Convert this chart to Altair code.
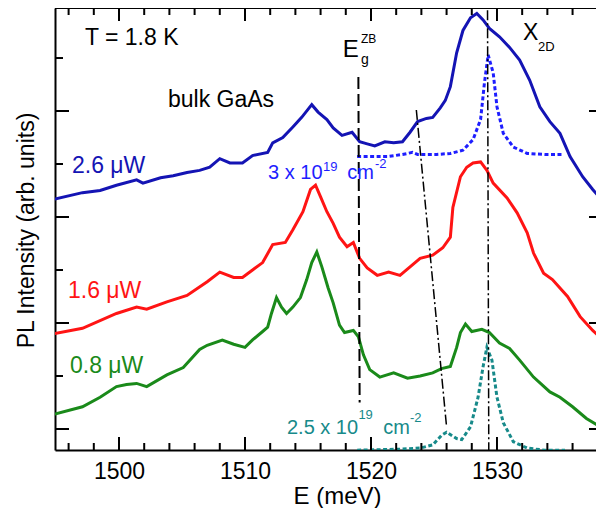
import altair as alt
import pandas as pd

# ---------------- data (E in meV, PL intensity in arb. units) ----------------
blue_26uW = [(1494.9, 2.17), (1497.1, 2.23), (1498.5, 2.25), (1499.8, 2.30), (1501.4, 2.35),
             (1501.9, 2.32), (1503.3, 2.37), (1504.3, 2.39), (1505.4, 2.42), (1506.4, 2.44),
             (1507.2, 2.47), (1508.0, 2.55), (1508.8, 2.51), (1509.8, 2.51), (1510.6, 2.58),
             (1511.8, 2.61), (1512.2, 2.70), (1513.0, 2.75), (1513.8, 2.85), (1514.5, 2.94),
             (1515.3, 3.06), (1515.8, 2.99), (1516.5, 2.92), (1517.0, 2.84), (1517.7, 2.77),
             (1518.5, 2.80), (1519.1, 2.71), (1519.7, 2.69), (1520.3, 2.67), (1521.1, 2.71),
             (1521.8, 2.70), (1522.5, 2.71), (1523.1, 2.80), (1523.7, 2.90), (1524.4, 2.93),
             (1524.9, 2.94), (1525.5, 3.03), (1525.9, 3.10), (1526.3, 3.23), (1526.8, 3.55),
             (1527.3, 3.76), (1527.9, 3.88), (1528.4, 3.92), (1528.9, 3.86), (1529.4, 3.78),
             (1530.2, 3.70), (1531.0, 3.60), (1531.8, 3.48), (1532.6, 3.29), (1533.4, 3.04),
             (1534.2, 2.90), (1535.0, 2.79), (1535.8, 2.57), (1536.8, 2.38), (1537.6, 2.26),
             (1538.5, 2.14)]

red_16uW = [(1494.9, 0.90), (1497.1, 0.95), (1499.8, 1.09), (1501.4, 1.15), (1502.2, 1.13),
            (1503.8, 1.20), (1505.4, 1.26), (1507.0, 1.39), (1508.0, 1.48), (1509.1, 1.43),
            (1509.8, 1.43), (1510.6, 1.50), (1511.4, 1.57), (1512.2, 1.74), (1513.2, 1.76),
            (1513.8, 1.88), (1514.6, 2.05), (1515.2, 2.26), (1515.6, 2.30), (1516.0, 2.19),
            (1516.5, 2.05), (1517.0, 1.94), (1517.5, 1.81), (1518.1, 1.72), (1518.6, 1.76),
            (1519.1, 1.61), (1519.7, 1.52), (1520.5, 1.45), (1521.4, 1.48), (1522.3, 1.45),
            (1523.1, 1.53), (1523.9, 1.61), (1524.9, 1.64), (1525.7, 1.71), (1526.3, 1.81),
            (1526.5, 2.09), (1527.1, 2.38), (1527.6, 2.47), (1528.1, 2.51), (1528.7, 2.52),
            (1529.2, 2.44), (1529.7, 2.32), (1530.8, 2.18), (1531.6, 2.04), (1532.4, 1.85),
            (1532.9, 1.66), (1533.7, 1.47), (1534.4, 1.41), (1535.6, 1.25), (1536.6, 1.06),
            (1537.6, 0.93), (1538.5, 0.83)]

green_08uW = [(1494.9, 0.14), (1497.1, 0.21), (1498.5, 0.30), (1499.8, 0.40), (1500.6, 0.42),
              (1501.4, 0.43), (1502.2, 0.40), (1503.8, 0.51), (1505.1, 0.58), (1506.4, 0.75),
              (1507.0, 0.79), (1508.2, 0.84), (1509.1, 0.80), (1510.0, 0.77), (1510.6, 0.84),
              (1511.4, 0.92), (1511.8, 0.96), (1512.1, 1.09), (1512.5, 1.24), (1512.9, 1.15),
              (1513.3, 1.09), (1513.8, 1.15), (1514.4, 1.24), (1514.9, 1.41), (1515.3, 1.57),
              (1515.7, 1.67), (1516.1, 1.53), (1516.6, 1.33), (1517.0, 1.19), (1517.5, 0.98),
              (1517.9, 0.91), (1518.6, 0.93), (1519.0, 0.87), (1519.4, 0.70), (1519.9, 0.56),
              (1520.7, 0.49), (1521.8, 0.53), (1522.9, 0.48), (1523.9, 0.50), (1524.9, 0.53),
              (1525.6, 0.57), (1526.3, 0.59), (1526.8, 0.77), (1527.1, 0.91), (1527.5, 0.99),
              (1528.0, 0.92), (1528.8, 0.94), (1529.4, 0.91), (1530.2, 0.81), (1531.0, 0.76),
              (1531.8, 0.65), (1532.9, 0.49), (1534.2, 0.35), (1535.0, 0.30), (1536.0, 0.21),
              (1537.1, 0.10), (1538.2, 0.02), (1538.5, 0.00)]

calc_3e19 = [(1518.9, 2.57), (1521.3, 2.57), (1522.5, 2.59), (1523.3, 2.61), (1523.7, 2.59),
             (1525.2, 2.59), (1526.3, 2.60), (1527.3, 2.63), (1528.1, 2.73), (1528.7, 2.92),
             (1529.0, 3.26), (1529.3, 3.53), (1529.7, 3.36), (1530.0, 3.04), (1530.5, 2.79),
             (1531.3, 2.66), (1532.4, 2.60), (1533.8, 2.59), (1535.2, 2.59)]

calc_25e19 = [(1518.9, -0.20), (1522.3, -0.19), (1523.9, -0.18), (1524.9, -0.15), (1525.6, -0.06),
              (1526.0, -0.03), (1526.8, -0.09), (1527.2, -0.10), (1527.9, 0.02), (1528.5, 0.30),
              (1528.9, 0.59), (1529.2, 0.77), (1529.6, 0.65), (1530.0, 0.30), (1530.5, 0.06),
              (1531.3, -0.12), (1532.4, -0.18), (1533.8, -0.20), (1535.4, -0.20)]

eg_zb_line = [(1519.0, 3.32), (1519.1, 0.25)]
shift_line = [(1523.6, 3.01), (1526.0, 0.02)]
x2d_line = [(1529.25, 3.95), (1529.35, -0.20)]

x_major = [1500, 1510, 1520, 1530]
x_minor = [1496, 1498, 1502, 1504, 1506, 1508, 1512, 1514, 1516, 1518,
           1522, 1524, 1526, 1528, 1532, 1534, 1536]
y_major = [0, 1, 2, 3]
y_minor = [0.5, 1.5, 2.5, 3.5]

labels = [
    ("T = 1.8 K", 1497.30, 3.62, 23, "black"),
    ("bulk GaAs", 1503.89, 3.04, 23, "black"),
    ("2.6 μW", 1496.27, 2.42, 23, "#1414b4"),
    ("1.6 μW", 1495.95, 1.24, 23, "#ff1414"),
    ("0.8 μW", 1496.11, 0.53, 23, "#1a8a1a"),
    ("3 x 10", 1511.83, 2.36, 20, "#1e1eff"),
    ("19", 1516.19, 2.43, 13, "#1e1eff"),
    ("cm", 1518.12, 2.36, 20, "#1e1eff"),
    ("-2", 1520.32, 2.46, 13, "#1e1eff"),
    ("2.5 x 10", 1513.33, -0.05, 20, "#178a8a"),
    ("19", 1519.00, 0.09, 13, "#178a8a"),
    ("cm", 1520.98, -0.05, 20, "#178a8a"),
    ("-2", 1523.10, 0.07, 13, "#178a8a"),
    ("E", 1517.75, 3.51, 24, "black"),
    ("ZB", 1519.20, 3.64, 12, "black"),
    ("g", 1519.20, 3.44, 14, "black"),
    ("X", 1532.06, 3.67, 23, "black"),
    ("2D", 1533.25, 3.57, 13, "black"),
]

# ---------------- chart ----------------
FONT = "Liberation Sans"
W, H = 541, 442
xs = alt.Scale(domain=[1494.92, 1537.86], nice=False, zero=False)
ys = alt.Scale(domain=[-0.198, 3.972], nice=False, zero=False)

xax = alt.Axis(
    values=x_major, format="d", ticks=False, tickSize=0, grid=False,
    labelFontSize=23, labelFont=FONT, labelColor="black", labelPadding=10, labelFlush=False,
    domainColor="black", domainWidth=2,
    title="E (meV)", titleFont=FONT, titleFontSize=24, titleFontWeight="normal",
    titleColor="black", titleX=282, titleY=53, titleBaseline="alphabetic", titleAlign="center")
yax = alt.Axis(
    labels=False, ticks=False, tickSize=0, grid=False,
    domainColor="black", domainWidth=2,
    title="PL Intensity (arb. units)", titleFont=FONT, titleFontSize=23,
    titleFontWeight="normal", titleColor="black", titleX=-22, titleY=222,
    titleAngle=270, titleBaseline="alphabetic", titleAlign="center")

X = alt.X("E:Q", scale=xs, axis=xax, title="E (meV)")
Y = alt.Y("I:Q", scale=ys, axis=yax, title="PL Intensity (arb. units)")


def df(pairs):
    return pd.DataFrame(pairs, columns=["E", "I"])


def line(pairs, color, width=3.0, dash=None):
    kw = dict(color=color, strokeWidth=width, clip=True)
    if dash:
        kw["strokeDash"] = dash
    return alt.Chart(df(pairs)).mark_line(**kw).encode(x=X, y=Y)


layers = [line(green_08uW, "#1a8a1a"),
          line(red_16uW, "#ff1414"),
          line(blue_26uW, "#1414b4"),
          line(calc_3e19, "#1e1eff", 3, [4, 2.5]),
          line(calc_25e19, "#178a8a", 3, [4, 2.5]),
          line(eg_zb_line, "black", 2, [12, 5]),
          line(shift_line, "black", 1.5, [10, 3, 2, 3]),
          line(x2d_line, "black", 1.5, [10, 3, 2, 3])]

# frame top line
layers.append(alt.Chart(pd.DataFrame({"a": [0]})).mark_rule(color="black", strokeWidth=2).encode(
    x=alt.value(0), x2=alt.value(W), y=alt.value(0)))


# inward ticks
def xticks(vals, y1, y2):
    return alt.Chart(pd.DataFrame({"E": vals})).mark_rule(color="black", strokeWidth=2).encode(
        x=X, y=alt.value(y1), y2=alt.value(y2))


def yticks(vals, x1, x2):
    return alt.Chart(pd.DataFrame({"I": vals})).mark_rule(color="black", strokeWidth=2).encode(
        y=Y, x=alt.value(x1), x2=alt.value(x2))


layers += [xticks(x_major, H, H - 13), xticks(x_minor, H, H - 7),
           xticks(x_major, 0, 13), xticks(x_minor, 0, 7),
           yticks(y_major, 0, 14), yticks(y_minor, 0, 8),
           yticks(y_major, W - 7, W)]

lab_df = pd.DataFrame(labels, columns=["text", "E", "I", "size", "color"])
layers.append(alt.Chart(lab_df).mark_text(align="left", baseline="alphabetic", font=FONT).encode(
    x=X, y=Y,
    text="text:N",
    size=alt.Size("size:Q", scale=None),
    color=alt.Color("color:N", scale=None),
))

chart = alt.layer(*layers).properties(
    width=W, height=H,
    padding={"left": 47, "top": 0, "right": 0, "bottom": 58},
    autosize=alt.AutoSizeParams(type="none"),
    background="white",
).configure_view(stroke=None)

chart.save("out.html", embed_options={"renderer": "svg", "actions": False})
